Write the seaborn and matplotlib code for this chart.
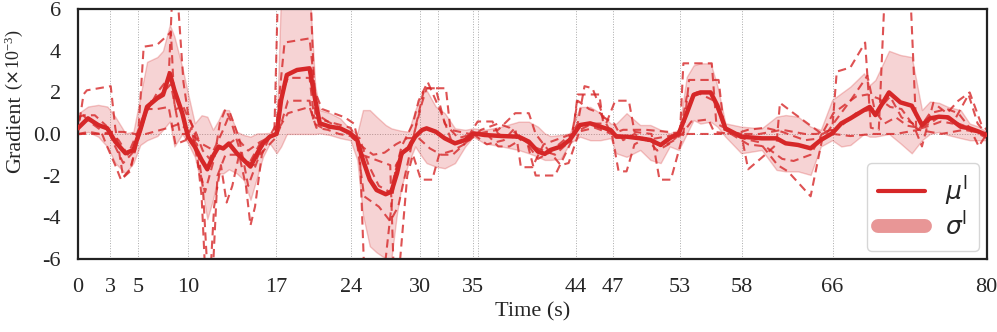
import matplotlib
matplotlib.use("Agg")
import matplotlib.pyplot as plt
from matplotlib.lines import Line2D
import seaborn as sns

# time grid for mean and +-std band
grid_t = [0.0, 0.9, 1.8, 2.6, 3.3, 4.2, 4.9, 5.5, 6.1, 7.0, 7.5, 8.1, 8.5, 9.2, 9.7,
          10.3, 10.9, 11.4, 11.9, 12.4, 12.8, 13.3, 14.0, 14.6, 15.2, 15.8, 16.3, 16.9,
          17.5, 17.9, 18.4, 19.3, 20.4, 20.9, 21.3, 22.2, 23.1, 24.0, 24.6, 25.1, 25.7,
          26.3, 27.1, 27.6, 28.1, 28.5, 29.1, 29.7, 30.3, 30.7, 31.5, 32.3, 33.2, 34.1,
          34.8, 35.8, 37.3, 38.8, 39.7, 40.5, 41.1, 41.6, 42.5, 43.3, 44.2, 45.1, 46.0,
          46.9, 47.4, 48.3, 49.5, 50.4, 51.3, 52.1, 52.9, 53.6, 54.2, 54.8, 55.7, 56.3,
          57.0, 58.4, 60.2, 61.5, 62.3, 63.4, 64.5, 65.4, 66.4, 67.2, 68.0, 69.2, 69.7,
          70.2, 71.4, 72.4, 73.4, 74.3, 75.0, 75.8, 76.6, 77.7, 78.5, 79.3, 80.0]
mean_v = [0.27, 0.75, 0.43, 0.27, -0.37, -0.93, -0.77, 0.19, 1.31, 1.72, 1.88, 2.92, 2.12, 1.0, -0.13,
          -0.61, -1.25, -1.7, -1.07, -0.61, -0.7, -0.46, -0.93, -1.25, -1.57, -0.93, -0.45, -0.13,
          0.0, 1.64, 2.84, 3.08, 3.16, 1.64, 0.51, 0.35, 0.27, 0.03, -0.3, -1.25, -2.2,
          -2.7, -2.9, -2.78, -1.89, -0.93, -0.69, -0.13, 0.19, 0.27, 0.11, -0.21, -0.45, -0.29,
          0.03, -0.05, -0.1, -0.13, -0.37, -0.85, -0.96, -0.77, -0.61, -0.29, 0.43, 0.51, 0.35,
          0.19, -0.13, -0.13, -0.21, -0.29, -0.53, -0.21, 0.03, 1.0, 1.88, 2.0, 2.0, 1.36,
          0.27, -0.13, -0.21, -0.21, -0.45, -0.53, -0.69, -0.29, 0.03, 0.51, 0.75, 1.15, 1.3,
          0.91, 2.0, 1.52, 1.36, 0.43, 0.75, 0.83, 0.8, 0.35, 0.27, 0.11, -0.05]
upper_v = [0.97, 1.32, 1.4, 1.32, 0.83, 0.03, 0.11, 1.8, 3.47, 3.7, 4.0, 5.25, 4.7, 3.2, 1.96,
           0.51, 0.9, 0.83, 0.2, 0.67, 1.15, 1.15, 0.11, -0.05, -0.13, 0.03, 0.03, 0.05,
           0.1, 7.0, 7.0, 7.0, 7.0, 2.3, 1.15, 1.0, 0.75, 0.2, 0.03, 1.15, 1.15,
           0.83, 0.43, 0.27, 0.2, 0.15, 0.11, 1.15, 1.96, 2.1, 1.32, 1.0, 0.27, 0.2,
           0.27, 0.2, 0.35, 0.59, 0.59, 0.35, 0.03, -0.1, -0.05, 0.03, 1.3, 1.3, 1.0,
           0.5, 0.5, 1.0, 0.43, 0.43, 0.2, 0.03, 0.2, 2.75, 3.3, 3.4, 3.4, 2.3,
           0.51, 0.35, 0.27, 0.83, 0.91, 0.83, 0.35, 0.2, 1.64, 1.96, 2.28, 2.92, 2.35,
           2.6, 4.0, 3.8, 3.7, 1.15, 1.56, 1.5, 1.3, 1.15, 0.5, 0.35, 0.1]
lower_v = [-0.04, 0.1, -0.13, -0.61, -1.4, -1.9, -1.4, -0.53, -0.3, -0.1, 0.2, 0.6, -0.6, 0.0, -0.45,
           -1.1, -2.5, -4.1, -3.17, -1.9, -1.9, -1.7, -1.9, -2.2, -3.17, -2.05, -1.1, -0.45,
           -0.93, -0.6, 0.0, 0.0, 0.0, 0.0, 0.03, -0.05, -0.2, -0.3, -1.25, -3.9, -5.4,
           -5.7, -6.0, -6.0, -3.8, -2.5, -1.4, -0.6, -1.1, -1.4, -1.57, -1.65, -1.4, -0.6,
           -0.13, -0.45, -0.6, -0.77, -0.93, -1.1, -1.25, -1.25, -1.2, -0.45, -0.13, -0.3, -0.3,
           -0.2, -0.93, -1.1, -0.77, -1.25, -1.4, -0.6, -0.77, 0.0, 0.67, 0.5, 0.59, 0.35,
           -0.13, -0.93, -0.77, -1.73, -1.8, -1.8, -1.97, -0.6, -0.3, -0.6, -0.53, 0.0, -0.13,
           -0.13, 0.0, -0.45, -0.93, -0.3, 0.0, 0.1, -0.05, -0.2, -0.3, -0.3, -0.3]

# individual runs (dashed)
run1_t = [0, 0.5, 0.8, 2.9, 3.3, 4.0, 4.6, 5.3, 5.8, 7.0, 8.2, 8.5, 9.0, 9.7, 10.5, 11.0, 11.4,
          11.9, 12.3, 13.0, 14.0, 15.0, 16.0, 17.3, 17.6, 20.5, 20.9, 22.0, 24.0, 24.8, 25.2,
          27.0, 28.0, 29.5, 30.3, 30.7, 32.4, 32.8, 34.5, 35.2, 36.5, 37.0, 39.5, 40.3, 42.0,
          43.5, 44.0, 45.9, 46.3, 47.0, 50.0, 53.0, 53.3, 55.8, 56.2, 58.0, 60.0, 62.0, 64.0,
          65.0, 66.4, 66.8, 68.0, 69.3, 69.8, 70.5, 71.0, 73.3, 73.8, 75, 76, 77, 78.4, 79.2, 80]
run1_v = [0.0, 1.9, 2.1, 2.3, 0.3, -2.1, -1.8, -0.2, 4.2, 4.3, 4.9, 1.5, 0.0, 0.0, -0.5, -2.5, -6.5,
          -6.5, -2.0, -1.0, -1.0, -1.5, -0.5, 0.0, 6.5, 6.5, 1.0, 0.6, 0.3, -0.5, -6.5,
          -6.5, -1.5, -0.2, 1.5, 2.2, 2.2, 0.2, 0.0, 0.6, 0.6, 0.0, -0.3, -2.0, -2.0,
          -0.3, 1.9, 1.9, 0.3, 0.0, -0.3, 0.0, 3.4, 3.4, 0.5, 0.0, 0.0, 0.2, 0.0,
          0.0, 0.2, 3.0, 3.2, 4.4, 0.3, 0.2, 6.5, 6.5, 0.2, 0.4, 0.6, 0.5, 1.9, 0.5, 0.0]
run2_t = [0, 0.3, 1.0, 2.0, 2.5, 3.3, 3.8, 4.6, 5.3, 6.0, 7.0, 8.0, 8.3, 8.8, 9.3, 9.7, 10.3,
          10.9, 11.2, 11.7, 12.0, 12.6, 13.1, 13.6, 14.2, 14.8, 15.2, 15.6, 16.2, 17.0, 17.5,
          18.2, 20.4, 20.9, 21.5, 22.5, 23.5, 24.3, 25.0, 26.0, 27.5, 27.8, 28.3, 29.0, 29.5,
          30.2, 31.2, 31.8, 33.0, 34.0, 35.0, 37.0, 38.5, 39.7, 40.3, 41.0, 42.5, 43.2, 44.2,
          45.3, 46.5, 47.3, 48.5, 49.0, 50.5, 51.2, 52.2, 53.3, 53.8, 56.4, 56.9, 58.4, 59.0,
          60.5, 61.5, 61.8, 63.0, 64.5, 65.5, 66.5, 67.5, 68.5, 69.5, 70.5, 71.5, 72.5, 73.3,
          74.0, 75.0, 76.5, 77.5, 78.5, 79.3, 80.0]
run2_v = [0.5, 1.0, 0.6, 0.2, -0.5, -1.5, -2.2, -1.7, -0.3, 1.0, 2.0, 2.7, 6.5, 6.5, 2.5, 1.0, 0.0,
          -3.0, -6.5, -6.5, -3.5, -1.5, -3.3, -2.5, -1.0, -2.5, -4.4, -3.5, -1.0, 0.0, 0.5,
          4.4, 4.6, 2.0, 1.2, 1.0, 0.8, 0.5, -1.0, -1.2, -1.5, -6.5, -6.5, -2.0, -1.0,
          -2.2, -2.2, -1.0, -0.8, -0.5, 0.0, 0.2, 1.0, 1.0, 0.0, -0.5, -1.5, -1.4, 0.2,
          0.5, 0.5, 1.6, 1.6, 0.1, 0.0, -2.2, -2.2, 0.0, 2.6, 2.6, 0.2, 0.0, -1.7,
          -1.0, -0.5, 1.5, 1.0, 0.4, 0.0, 1.0, 1.4, 1.8, 1.9, 1.7, 1.3, 1.2, 0.6,
          0.2, 1.0, 1.2, 1.0, 0.3, -0.6, 0.0]
run3_t = [0, 1.0, 2.0, 3.0, 3.6, 4.4, 5.2, 6.0, 7.0, 8.0, 8.6, 9.5, 10.0, 10.6, 11.2, 12.0,
          12.5, 13.0, 13.5, 14.5, 15.5, 16.5, 17.4, 18.0, 18.5, 20.4, 20.8, 22.0, 24.0, 24.6,
          25.2, 26.5, 27.5, 28.2, 29.0, 29.8, 30.5, 31.5, 32.3, 33.5, 34.8, 36.0, 37.5, 38.5,
          39.0, 40.0, 41.0, 42.0, 43.5, 44.0, 45.0, 46.0, 47.0, 47.6, 48.3, 49.0, 50.0, 51.0,
          52.0, 53.0, 53.6, 54.5, 56.0, 57.0, 58.4, 60.0, 61.6, 62.5, 64.5, 65.5, 66.5, 68.0,
          69.5, 70.2, 71.5, 72.5, 73.5, 74.3, 75.3, 76.5, 77.5, 78.5, 79.5, 80]
run3_v = [0.0, 0.1, 0.0, 0.0, -0.3, -1.0, 0.0, 1.2, 1.2, 1.3, -0.5, -0.3, 0.3, -1.5, -2.8, -1.2,
          0.5, 1.2, 0.6, -1.2, -1.5, -0.3, 0.0, 2.0, 2.7, 2.7, 0.8, 0.6, 0.0, -0.5,
          -3.0, -3.5, -4.2, -3.5, -1.5, 0.5, 2.2, 2.2, 0.5, -0.2, 0.0, -0.5, -0.3, 0.3,
          -1.6, -1.6, -0.5, -0.3, 0.0, 1.6, 1.2, 1.0, 0.0, -1.8, -1.8, -0.5, -0.2, -0.8,
          -0.5, 0.0, 1.8, 2.0, 1.6, 0.2, -0.2, -0.4, -1.5, -1.8, -3.0, -0.3, 0.5, 1.6,
          2.8, 1.0, 1.8, 0.8, 0.5, -0.6, 1.5, 1.0, 1.6, 2.0, 0.5, 0.2]
run4_t = [0, 2, 3, 4, 5, 6, 8, 9, 10, 11, 12, 13, 14, 15, 16, 17.4, 18.5, 20.4, 21, 22, 23, 24,
          25, 26, 27, 28, 29, 30, 31, 32, 33, 34, 35, 36, 37, 38, 39.2, 40.5, 41.5, 43, 44,
          45.5, 47, 48, 50, 52, 53, 54, 56, 57, 58.4, 59, 60.5, 62, 64, 65.5, 66.5, 68, 70,
          72, 74, 76, 78, 80]
run4_v = [0.0, 0.0, 0.1, 0.1, 0.0, 0.0, 0.3, 0.5, 0.0, -0.5, -0.8, -0.6, -0.2, -0.8, -0.4, 0.0,
          1.0, 1.3, 0.3, 0.2, 0.0, -0.1, -0.6, -1.0, -0.9, -0.5, -0.2, -0.2, -0.7, -1.0, -1.0,
          -0.5, 0.0, 0.0, -0.6, -0.6, -0.2, -1.2, -0.9, -0.2, 0.1, 0.3, 0.0, 0.2, 0.2, 0.1,
          0.0, 0.0, 0.0, 0.0, 0.1, 0.2, 0.3, 0.1, -0.3, -0.2, 0.0, -0.1, 0.0, 0.0, 0.2, 0.0,
          0.2, 0.0]
run5_t = [0, 0.5, 1.5, 2.5, 3.2, 4.0, 5.0, 5.5, 6.5, 7.5, 8.2, 8.6, 9.3, 9.7, 10.3, 11.0, 11.6,
          12.2, 12.8, 13.4, 14.2, 15.0, 16.0, 17.4, 17.8, 18.5, 20.4, 20.8, 21.5, 23.0, 24.0,
          24.8, 25.6, 26.5, 27.5, 28.5, 29.5, 30.0, 30.8, 32.0, 33.0, 34.5, 35.5, 37.0, 38.0,
          39.0, 40.0, 41.0, 42.0, 43.0, 44.0, 44.6, 45.3, 46.3, 47.2, 48.0, 49.0, 50.5, 51.5,
          52.5, 53.2, 54.0, 55.5, 56.0, 57.5, 59.0, 60.5, 62.0, 63.0, 64.5, 65.5, 67.0, 68.5,
          70.0, 71.0, 72.0, 73.0, 74.0, 75.0, 76.0, 77.0, 78.0, 79.0, 80.0]
run5_v = [0.8, 0.9, 0.9, 0.4, -0.5, -1.4, -0.8, 0.3, 1.6, 2.0, 2.4, 1.2, 1.3, 0.8, 0.2, -0.8, -1.2,
          -0.5, 0.2, 1.0, -0.2, -2.5, -1.0, -0.2, 0.3, 1.6, 1.6, 0.5, 0.3, 0.3, 0.0,
          -0.2, -1.5, -2.5, -2.8, -0.6, 0.5, 1.6, 2.5, 1.0, -0.5, -0.3, 0.2, 0.5, 0.3,
          -0.2, -0.6, -0.8, -1.0, -0.5, 0.5, 2.3, 2.2, 0.8, 0.5, -0.3, 0.0, -0.4, -0.6,
          -0.3, 0.0, 0.6, 0.7, 0.1, 0.0, -0.5, -0.6, -1.2, -1.3, -1.0, 0.0, 0.3, 1.0,
          1.2, 0.5, 0.8, 0.4, 0.3, 0.5, 0.9, 0.6, 0.4, 0.1, -0.2]

# event markers (vertical lines) and their labels
event_t = [0, 2.87, 5.33, 9.74, 17.45, 24.03, 30.13, 31.74, 34.82, 35.26, 43.86, 47.09,
           52.96, 58.42, 66.43, 80]
event_labels = ['0', '3', '5', '10', '17', '24', '30', '', '35', '', '44', '47',
                '53', '58', '66', '80']
ytick_vals = [-6, -4, -2, 0, 2, 4, 6]
ytick_labels = ['-6', '-4', '-2', '0.0', '2', '4', '6']

red = '#d62728'

sns.set_style('white')
plt.rcParams['font.family'] = ['Liberation Serif', 'DejaVu Serif']
plt.rcParams['mathtext.fontset'] = 'dejavusans'

fig, ax = plt.subplots(figsize=(9.97, 3.32), dpi=100)
fig.subplots_adjust(left=0.078, right=0.9897, top=0.972, bottom=0.221)

for t in event_t[1:-1]:
    ax.axvline(t, color='#aaaaaa', lw=0.7, ls=':', zorder=0)
ax.axhline(0, color='#aaaaaa', lw=0.7, ls=':', zorder=0)

ax.fill_between(grid_t, lower_v, upper_v, facecolor=(0.839, 0.153, 0.157, 0.2),
                edgecolor=(0.839, 0.153, 0.157, 0.25), lw=1.0, zorder=1)

runs = [(run1_t, run1_v), (run2_t, run2_v), (run3_t, run3_v),
        (run4_t, run4_v), (run5_t, run5_v)]
for rt, rv in runs:
    sns.lineplot(x=rt, y=rv, ax=ax, color=red, alpha=0.8, lw=1.5,
                 linestyle=(0, (4, 2.5)), zorder=2)

sns.lineplot(x=grid_t, y=mean_v, ax=ax, color=red, lw=3.2, zorder=3)

ax.set_xlim(0, 80)
ax.set_ylim(-6, 6)
ax.set_xticks(event_t)
ax.set_xticklabels(event_labels, fontsize=16)
ax.set_yticks(ytick_vals)
ax.set_yticklabels(ytick_labels, fontsize=16)
ax.tick_params(axis='x', length=0, pad=14)
ax.tick_params(axis='y', length=0, pad=12)
ax.set_xlabel('Time (s)', fontsize=16, labelpad=4)
ax.set_ylabel('Gradient', fontsize=16, labelpad=6)
ax.annotate(r'($\times$10$\mathregular{^{-3}}$)', xy=(1, 1), xycoords=ax.yaxis.label,
            xytext=(0, 4), textcoords='offset points', rotation=90,
            ha='right', va='bottom', fontsize=13)

for s in ax.spines.values():
    s.set_color('#222222')
    s.set_linewidth(1.6)

handles = [Line2D([], [], color=red, lw=3),
           Line2D([], [], color='#e89696', lw=10, solid_capstyle='round')]
ax.legend(handles, [r'$\mu^{\mathrm{l}}$', r'$\sigma^{\mathrm{l}}$'], loc='lower right',
          fontsize=18, handlelength=1.9, frameon=True, edgecolor='#cccccc',
          borderaxespad=0.3, labelspacing=0.15, handletextpad=0.8, borderpad=0.45)

fig.savefig('out.png', dpi=100)
